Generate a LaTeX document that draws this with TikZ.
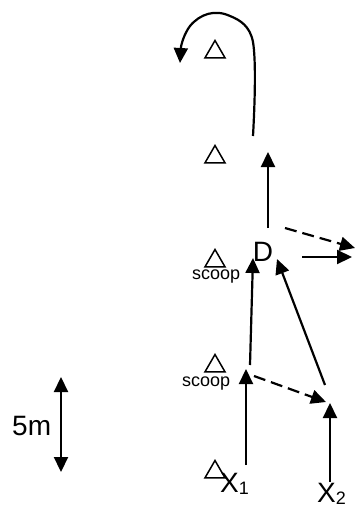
\documentclass[tikz,border=0pt]{standalone}
\usepackage{fontspec}
\setmainfont{Liberation Sans}
\usetikzlibrary{arrows.meta,shapes.geometric}
\begin{document}
\begin{tikzpicture}[x=1pt,y=-1pt,
  arr/.style={line width=2.2pt,-{Triangle[length=15pt,width=14pt]}},
  dasharr/.style={arr,dash pattern=on 12pt off 6pt},
  cone/.style={regular polygon,regular polygon sides=3,draw,line width=1.5pt,
    minimum size=23pt,inner sep=0pt,outer sep=0pt},
  big/.style={inner sep=0pt,font=\fontsize{28}{28}\selectfont},
  small/.style={inner sep=0pt,font=\fontsize{18}{18}\selectfont}]
\useasboundingbox (0,0) rectangle (355,507);
% cones
\node[cone] (t1) at (215,52) {};
\node[cone] (t2) at (215,157) {};
\node[cone] (t3) at (215,261) {};
\node[cone] (t4) at (215,366) {};
\node[cone] (t5) at (215,472) {};
% labels
\node[small,anchor=base west] (s1) at (192,279) {scoop};
\node[small,anchor=base west] (s2) at (182,386) {scoop};
\node[big] (D) at (263,252) {D};
\node[big,anchor=base west] (x1) at (220,492) {X\raisebox{-2pt}{\fontsize{18}{18}\selectfont 1}};
\node[big,anchor=base west] (x2) at (317,502) {X\raisebox{-2pt}{\fontsize{18}{18}\selectfont 2}};
\node[big,anchor=base west] (m5) at (12,435) {5m};
% coordinates
\coordinate (c0) at (253,136);
\coordinate (c1) at (180,63);
\coordinate (a0) at (268,228);
\coordinate (a1) at (268,152);
\coordinate (b0) at (285,228);
\coordinate (b1) at (355,248);
\coordinate (e0) at (302,257);
\coordinate (e1) at (352,257);
\coordinate (f0) at (250,365);
\coordinate (f1) at (253,258);
\coordinate (g0) at (325,385);
\coordinate (g1) at (277,259);
\coordinate (h0) at (246,465);
\coordinate (h1) at (246,369);
\coordinate (k0) at (254,376);
\coordinate (k1) at (326,402);
\coordinate (p0) at (330,482);
\coordinate (p1) at (330,403);
\coordinate (q0) at (61,377);
\coordinate (q1) at (61,472);
% arrows
\draw[arr] (c0) .. controls (255,100) and (256,60) .. (253,42)
  .. controls (250,26) and (240,20) .. (230,16)
  .. controls (215,9) and (200,14) .. (190,26)
  .. controls (184,34) and (181,45) .. (c1);
\draw[arr] (a0) -- (a1);
\draw[dasharr] (b0) -- (b1);
\draw[arr] (e0) -- (e1);
\draw[arr] (f0) -- (f1);
\draw[arr] (g0) -- (g1);
\draw[arr] (h0) -- (h1);
\draw[dasharr] (k0) -- (k1);
\draw[arr] (p0) -- (p1);
\draw[line width=2.2pt,{Triangle[length=15pt,width=14pt]}-{Triangle[length=15pt,width=14pt]}] (q0) -- (q1);
\end{tikzpicture}
\end{document}
